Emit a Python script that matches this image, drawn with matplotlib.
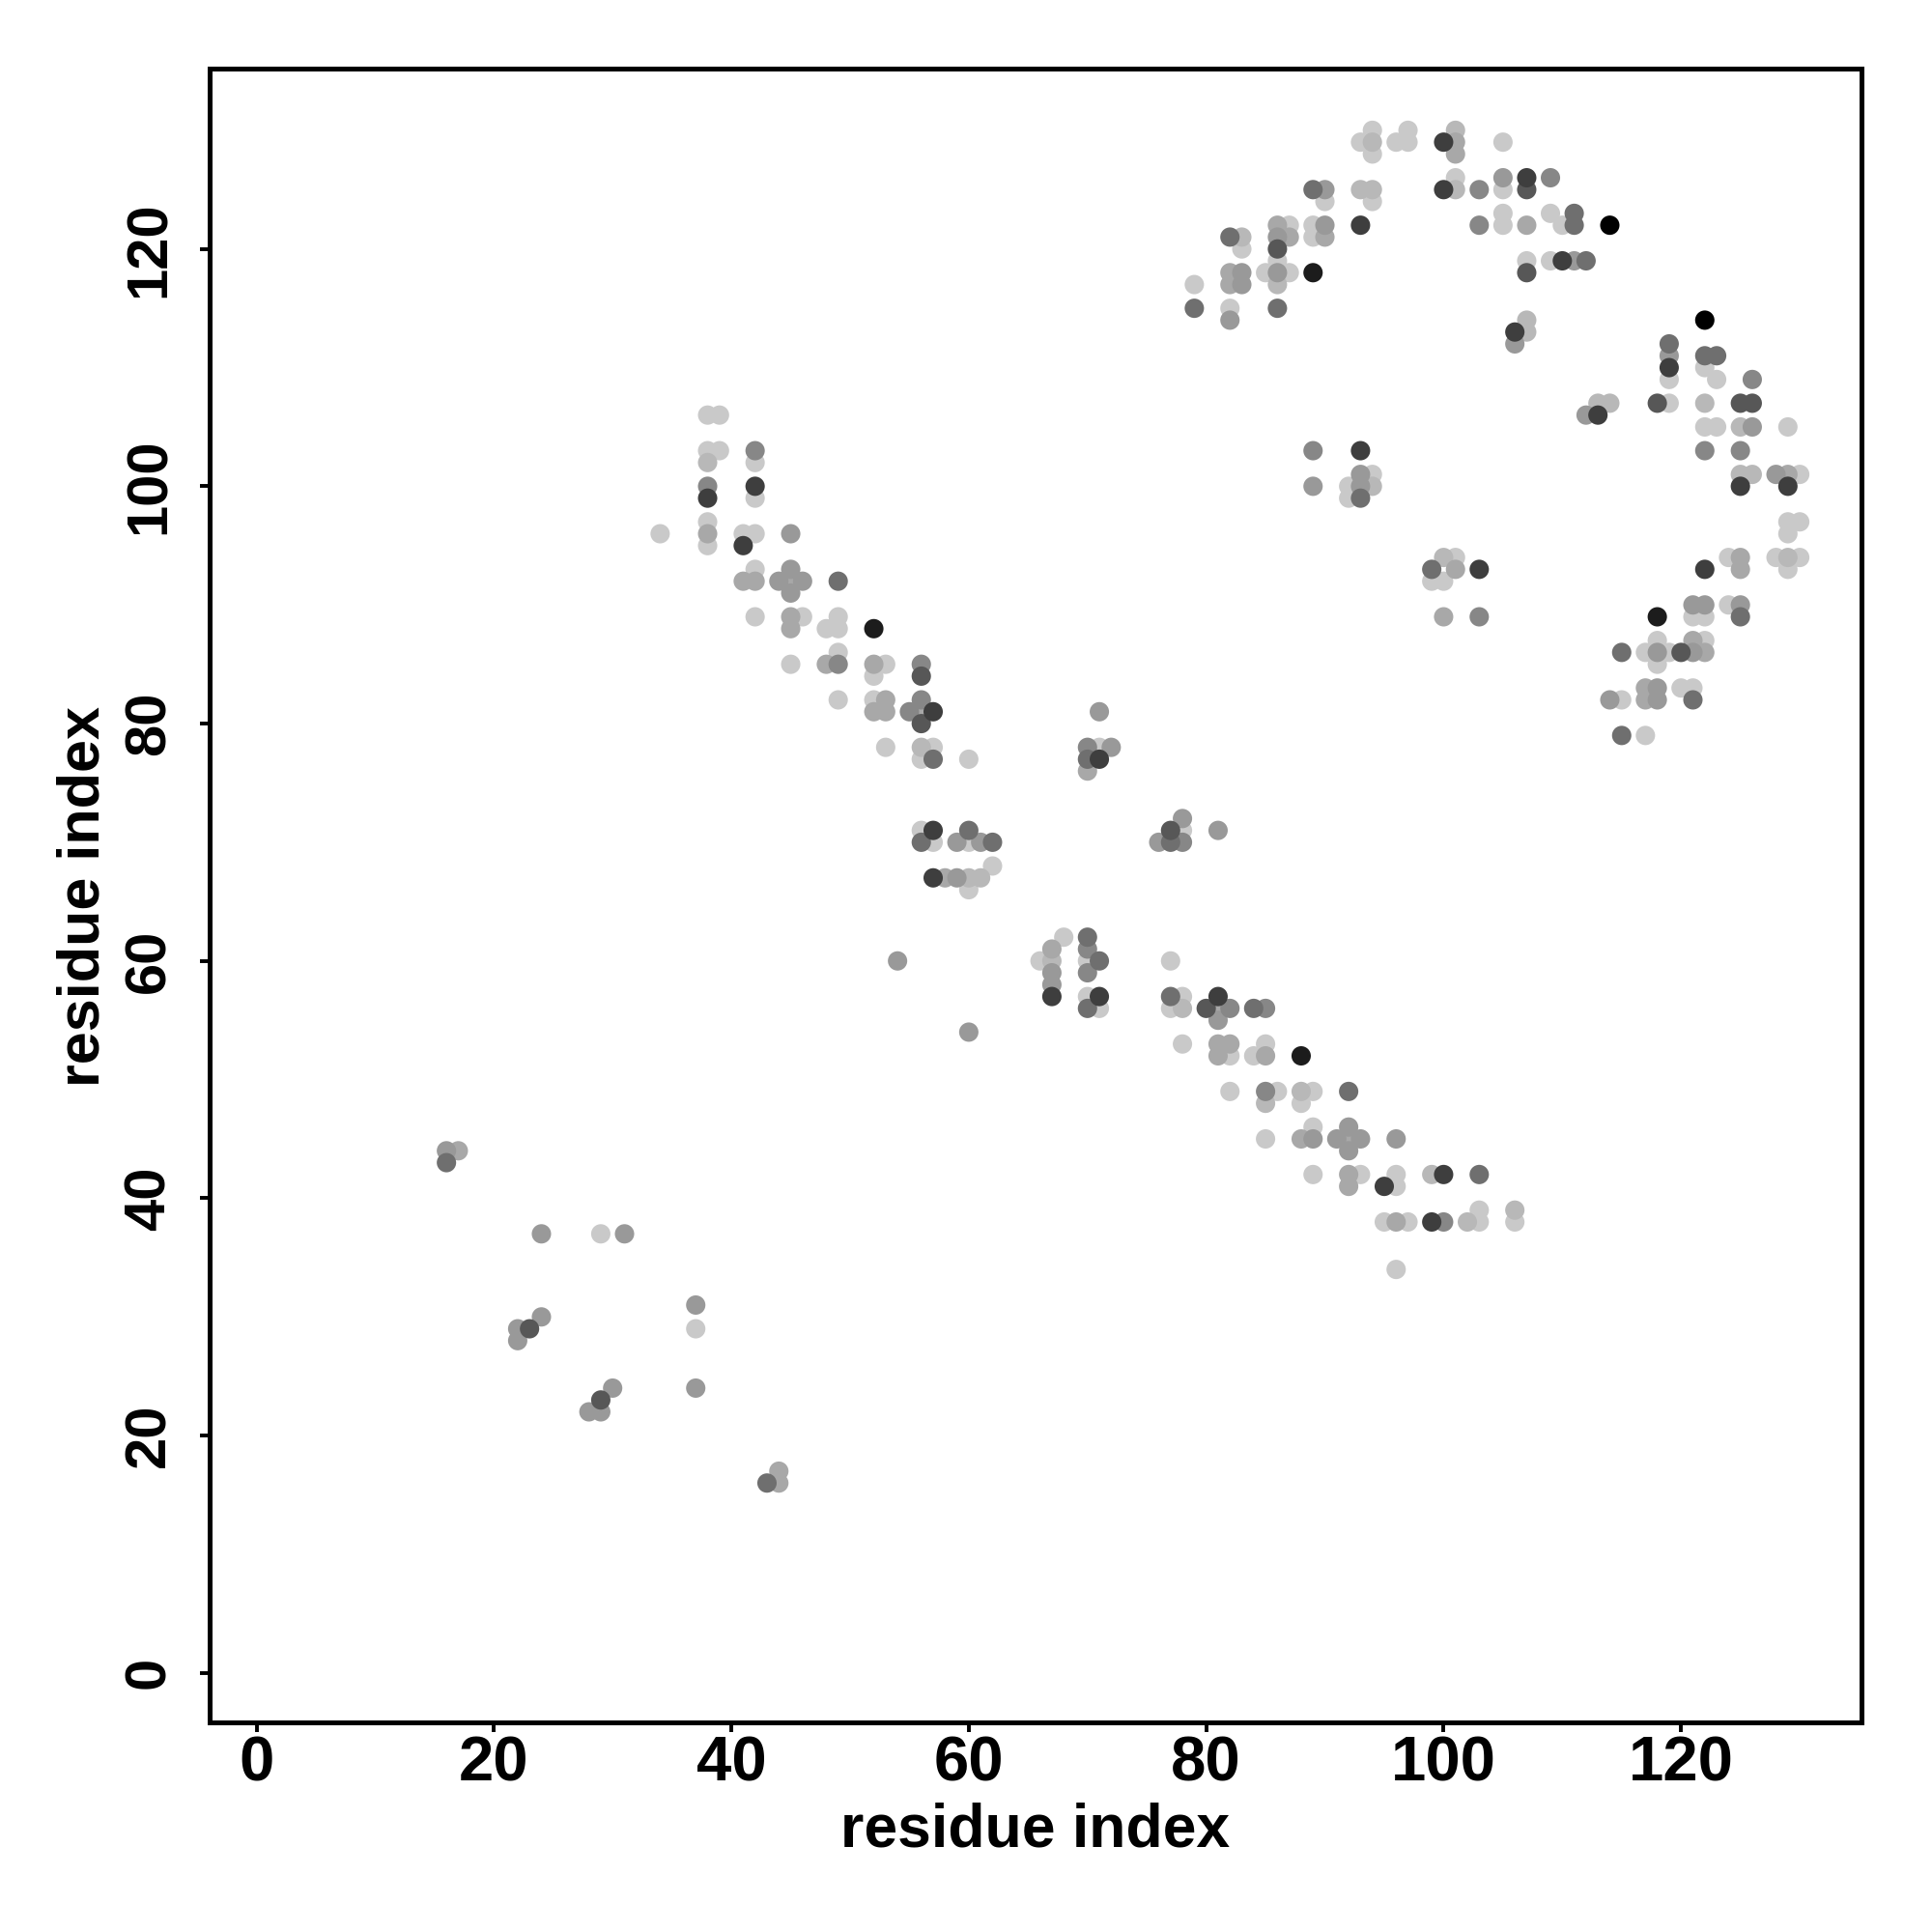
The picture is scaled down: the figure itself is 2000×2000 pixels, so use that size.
import matplotlib
matplotlib.use('Agg')
import matplotlib.pyplot as plt

# residue contact pairs (i, j), grouped by grey shade of the dot
contacts_light = [(29, 37), (37, 29),
                  (38, 106), (39, 106), (38, 103), (39, 103), (42, 102), (42, 99), (38, 97), (38, 95),
                  (34, 96), (41, 96), (42, 96), (42, 93), (42, 89), (46, 89), (49, 89), (48, 88), (49, 88),
                  (45, 85), (49, 86), (53, 85), (52, 84), (49, 82), (52, 82), (53, 78), (57, 78), (60, 77),
                  (56, 77), (56, 71), (57, 70), (60, 70), (62, 68), (60, 66),
                  (71, 78), (68, 62), (66, 60), (70, 60), (70, 57), (71, 56), (77, 60), (78, 57), (77, 56),
                  (78, 71), (82, 52), (85, 53), (84, 52), (78, 53),
                  (82, 49), (86, 49), (89, 49), (88, 48), (85, 45), (89, 46), (89, 42), (93, 42), (96, 42),
                  (96, 41), (95, 38), (97, 38), (103, 39), (103, 38), (106, 38), (96, 34),
                  (94, 130), (93, 129), (94, 128), (97, 130), (96, 129), (97, 129), (101, 126), (90, 124),
                  (94, 124), (87, 122), (89, 122), (89, 121), (83, 120), (86, 119), (85, 118), (87, 118),
                  (79, 117), (82, 115),
                  (105, 129), (105, 125), (105, 123), (105, 122), (109, 123), (110, 122), (107, 119),
                  (109, 119), (119, 109), (122, 110), (123, 109),
                  (119, 107), (122, 105), (123, 105), (129, 105), (130, 101), (129, 97), (130, 97), (129, 96),
                  (124, 94), (128, 94), (130, 94), (129, 93), (121, 89), (122, 89), (124, 90), (118, 87),
                  (117, 86), (119, 86), (118, 85), (122, 87), (120, 83), (121, 83), (115, 82), (117, 79),
                  (94, 101), (92, 100), (92, 99), (101, 94), (99, 92), (100, 92)]

contacts_pale = [(38, 102), (56, 78), (60, 67), (61, 67), (67, 60), (78, 56), (85, 48), (88, 49), (99, 42),
                 (102, 38), (106, 39), (94, 129), (101, 130), (101, 125), (93, 125), (94, 125), (83, 121),
                 (86, 117), (107, 114), (107, 113), (113, 107), (114, 107), (122, 107), (125, 105),
                 (125, 101), (126, 101), (129, 94), (94, 100), (100, 94)]

contacts_silver = [(17, 44), (44, 17), (44, 16), (38, 96), (41, 92), (42, 92), (45, 92), (45, 89), (45, 88),
                   (48, 85), (52, 85), (53, 82), (52, 81), (53, 81), (56, 81), (58, 67), (70, 76), (67, 61),
                   (81, 56), (81, 53), (82, 53), (81, 52), (85, 52), (88, 45), (92, 45), (92, 42), (92, 41),
                   (96, 38), (101, 129), (101, 128), (86, 122), (87, 121), (90, 121), (82, 118), (82, 117),
                   (107, 122), (129, 101), (125, 94), (125, 93), (121, 87), (122, 86), (117, 83), (117, 82),
                   (101, 93), (100, 89)]

contacts_mid = [(16, 44), (24, 37), (31, 37), (37, 31), (37, 24), (24, 30), (22, 29), (22, 28), (30, 24),
                (28, 22), (29, 22), (45, 96), (45, 93), (44, 92), (46, 92), (45, 91), (59, 70), (61, 70),
                (59, 67), (54, 60), (60, 54), (71, 81), (72, 78), (78, 72), (76, 70), (81, 71), (67, 59),
                (67, 58), (81, 55), (89, 45), (92, 46), (91, 45), (93, 45), (92, 44), (96, 45), (90, 125),
                (86, 121), (90, 122), (83, 118), (83, 117), (86, 118), (82, 114), (105, 126), (111, 119),
                (106, 112), (119, 111), (112, 106), (126, 105), (128, 101), (121, 90), (122, 90), (125, 90),
                (118, 86), (121, 86), (118, 83), (118, 82), (114, 82), (89, 100), (93, 101), (93, 100)]

contacts_medium = [(42, 103), (38, 100), (49, 85), (56, 85), (56, 82), (55, 81), (70, 78), (78, 70), (70, 61),
                   (70, 59), (82, 56), (85, 56), (85, 49), (100, 38), (103, 125), (109, 126), (103, 122),
                   (126, 109), (122, 103), (125, 103), (89, 103), (103, 89)]

contacts_dim = [(16, 43), (43, 16), (49, 92), (57, 77), (56, 70), (60, 71), (62, 70), (70, 77), (77, 70),
                (70, 62), (71, 60), (70, 56), (77, 57), (84, 56), (92, 49), (103, 42), (89, 125), (82, 121),
                (79, 115), (86, 115), (111, 123), (111, 122), (112, 119), (119, 112), (122, 111), (123, 111),
                (125, 89), (115, 86), (121, 82), (115, 79), (99, 93), (93, 99)]

contacts_dark = [(23, 29), (29, 23), (56, 84), (56, 80), (77, 71), (80, 56), (86, 120), (107, 125),
                 (107, 118), (118, 107), (125, 107), (126, 107), (120, 86)]

contacts_darker = [(38, 99), (42, 100), (41, 95), (57, 81), (57, 71), (57, 67), (71, 77), (67, 57), (71, 57),
                   (81, 57), (95, 41), (100, 42), (99, 38), (100, 129), (100, 125), (93, 122), (107, 126),
                   (110, 119), (106, 113), (119, 110), (113, 106), (125, 100), (129, 100), (122, 93),
                   (93, 103), (103, 93)]

contacts_black = [(52, 88), (88, 52), (89, 118), (118, 89)]
contacts_strongest = [(114, 122), (122, 114)]

groups = [(contacts_light, '#c9c9c9'), (contacts_pale, '#b8b8b8'), (contacts_silver, '#a8a8a8'),
          (contacts_mid, '#999999'), (contacts_medium, '#878787'), (contacts_dim, '#6f6f6f'),
          (contacts_dark, '#575757'), (contacts_darker, '#3e3e3e'), (contacts_black, '#1c1c1c'),
          (contacts_strongest, '#000000')]

ticks = [0, 20, 40, 60, 80, 100, 120]

plt.rcParams['font.family'] = ['Liberation Sans', 'DejaVu Sans']
plt.rcParams['font.weight'] = 'bold'

fig = plt.figure(figsize=(10, 10), dpi=200)
ax = fig.add_axes([0.1085, 0.1085, 0.855, 0.856])

for pairs, colour in groups:
    xs = [p[0] for p in pairs]
    ys = [p[1] for p in pairs]
    ax.scatter(xs, ys, s=52, c=colour, edgecolors='none', zorder=2)

ax.set_xlim(-3.95, 135.2)
ax.set_ylim(-4.17, 135.2)
ax.set_xticks(ticks)
ax.set_yticks(ticks)
ax.set_xticklabels([str(t) for t in ticks], weight='bold', size=23.5)
ax.set_yticklabels([str(t) for t in ticks], weight='bold', size=21.5, rotation=90, va='center')
ax.tick_params(axis='both', direction='out', length=3.5, width=1.4, color='black')
ax.tick_params(axis='x', pad=1.5)
ax.tick_params(axis='y', pad=9)
for sp in ax.spines.values():
    sp.set_linewidth(1.8)

ax.set_xlabel('residue index', weight='bold', size=22.5)
ax.set_ylabel('residue index', weight='bold', size=22)
ax.xaxis.set_label_coords(0.4995, -0.048)
ax.yaxis.set_label_coords(-0.0596, 0.4994)

fig.savefig('out.png', dpi=200, facecolor='white')
